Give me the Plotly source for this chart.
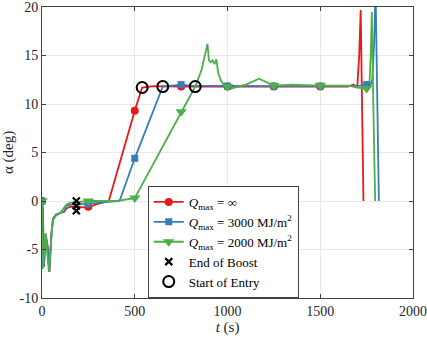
import plotly.graph_objects as go

# Q_max = inf
t_red = [0, 5, 10, 20, 30, 40, 50, 60, 75, 100, 120, 130, 150, 200, 250, 270, 300, 360,
         500, 540, 600, 750, 1000, 1250, 1500, 1650, 1680, 1690, 1700, 1710, 1718, 1726, 1733]
a_red = [0, -1.0, -6.8, -3.5, -4.6, -7.3, -3.5, -1.8, -1.5, -1.2, -1.1, -0.8, -0.6, -0.6, -0.7, -0.5, -0.3, 0,
         9.3, 11.7, 11.85, 11.8, 11.8, 11.8, 11.8, 11.8, 12.0, 11.8, 11.9, 15.0, 19.7, 8.0, 0]

# Q_max = 3000 MJ/m2
t_blue = [0, 5, 10, 20, 30, 40, 50, 60, 75, 100, 120, 130, 150, 200, 250, 300, 418,
          500, 651, 700, 750, 800, 1000, 1250, 1500, 1700, 1750, 1770, 1780, 1790, 1798, 1808, 1816]
a_blue = [0, -1.0, -6.8, -3.5, -4.8, -7.3, -3.5, -1.8, -1.4, -1.2, -1.1, -0.5, -0.4, -0.35, -0.3, -0.2, 0,
          4.4, 11.8, 11.9, 12.0, 11.9, 11.85, 11.85, 11.85, 11.85, 12.0, 11.9, 12.5, 16.0, 22.0, 10.0, 0]

# Q_max = 2000 MJ/m2
t_green = [0, 4, 19, 37, 58, 75, 100, 130, 150, 200, 250, 300, 400, 500, 750, 826, 860, 880, 892,
           900, 910, 920, 930, 940, 950, 965, 985, 1020, 1100, 1170, 1250, 1350, 1500, 1650, 1700,
           1750, 1765, 1772, 1778, 1786, 1796]
a_green = [0, -7.0, -3.3, -7.3, -2.0, -1.5, -1.2, -0.4, -0.2, -0.1, 0, 0, 0, 0.3, 9.2, 11.8, 13.5, 15.0, 16.2,
           14.5, 14.3, 14.5, 14.1, 14.6, 13.2, 12.4, 11.9, 11.6, 12.0, 12.6, 11.9, 12.0, 11.9, 11.9, 11.7,
           11.6, 12.0, 15.0, 19.5, 10.0, 0]

# markers every 250 s
tm_red = [0, 250, 500, 750, 1000, 1250, 1500]
am_red = [0, -0.6, 9.3, 11.8, 11.8, 11.8, 11.8]
tm_blue = [0, 250, 500, 750, 1000, 1250, 1500, 1750]
am_blue = [0, -0.3, 4.4, 12.0, 11.85, 11.85, 11.85, 12.0]
tm_green = [0, 250, 500, 750, 1000, 1250, 1500, 1750]
am_green = [0, 0, 0.3, 9.2, 11.8, 11.9, 11.9, 11.6]

# events
t_boost = [185, 185, 185]
a_boost = [0.0, -0.5, -1.0]
t_entry = [540, 651, 826]
a_entry = [11.7, 11.8, 11.8]

RED = 'rgb(228,26,28)'
BLUE = 'rgb(55,126,184)'
GREEN = 'rgb(77,175,74)'
FONT = 'Liberation Serif'

fig = go.Figure()

series = [
    (t_red, a_red, tm_red, am_red, RED, 'circle', 8, '<i>Q</i><sub>max</sub> = ∞'),
    (t_blue, a_blue, tm_blue, am_blue, BLUE, 'square', 7, '<i>Q</i><sub>max</sub> = 3000 MJ/m<sup>2</sup>'),
    (t_green, a_green, tm_green, am_green, GREEN, 'triangle-down', 10, '<i>Q</i><sub>max</sub> = 2000 MJ/m<sup>2</sup>'),
]

for t, a, tm, am, c, sym, sz, name in series:
    fig.add_trace(go.Scatter(x=t, y=a, mode='lines', line=dict(color=c, width=1.8),
                             showlegend=False, hoverinfo='skip'))
for t, a, tm, am, c, sym, sz, name in series:
    fig.add_trace(go.Scatter(x=tm, y=am, mode='markers', marker=dict(color=c, symbol=sym, size=sz),
                             showlegend=False))

# legend entries
for t, a, tm, am, c, sym, sz, name in series:
    fig.add_trace(go.Scatter(x=[None], y=[None], mode='lines+markers', name=name,
                             line=dict(color=c, width=1.8), marker=dict(color=c, symbol=sym, size=sz)))

fig.add_trace(go.Scatter(x=t_boost, y=a_boost, mode='markers', name='End of Boost',
                         marker=dict(symbol='x-thin', size=7, color='black',
                                     line=dict(width=2.2, color='black'))))
fig.add_trace(go.Scatter(x=t_entry, y=a_entry, mode='markers', name='Start of Entry',
                         marker=dict(symbol='circle-open', size=11, color='black',
                                     line=dict(width=2, color='black'))))

axis_common = dict(showgrid=True, gridcolor='rgb(232,232,232)', gridwidth=1, automargin=False,
                   zeroline=False, showline=True, linecolor='rgb(64,64,64)', linewidth=1,
                   mirror='ticks', ticks='inside', ticklen=4, tickcolor='rgb(64,64,64)',
                   ticklabeloverflow='allow',
                   tickfont=dict(family=FONT, size=14, color='rgb(38,38,38)'))

fig.update_layout(
    width=427, height=338,
    margin=dict(l=42, r=14, t=7, b=40),
    plot_bgcolor='white', paper_bgcolor='white',
    font=dict(family=FONT, size=14, color='rgb(38,38,38)'),
    xaxis=dict(range=[0, 2000], tickvals=[0, 500, 1000, 1500, 2000],
               title=dict(text='<i>t</i> (s)', standoff=2, font=dict(family=FONT, size=15)),
               **axis_common),
    yaxis=dict(range=[-10, 20], tickvals=[-10, -5, 0, 5, 10, 15, 20],
               ticktext=['-10', '-5', '0', '5', '10', '15', '20'],
               title=dict(text='α (deg)', standoff=4, font=dict(family=FONT, size=15)),
               **axis_common),
    legend=dict(x=0.285, y=0.0, xanchor='left', yanchor='bottom',
                bgcolor='white', bordercolor='rgb(64,64,64)', borderwidth=1,
                font=dict(family=FONT, size=13, color='black'), tracegroupgap=0, itemwidth=30),
)

fig.write_html("out.html", config={'displayModeBar': False},
               post_script="document.body.style.margin='0';")
